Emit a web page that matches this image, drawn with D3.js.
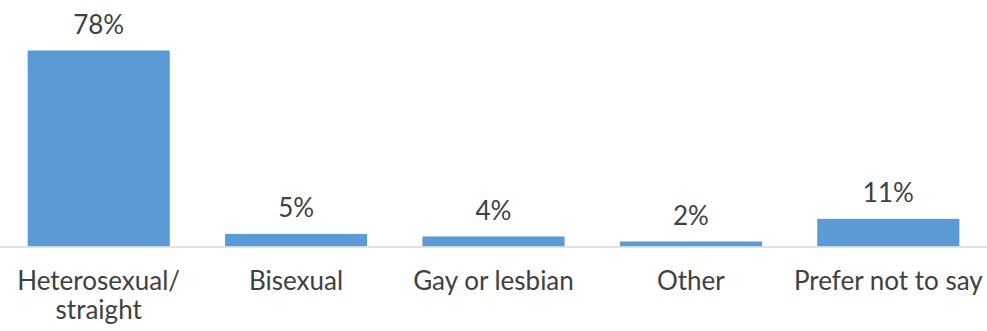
<!DOCTYPE html>
<html>
<head>
<meta charset="utf-8">
<script src="https://cdn.jsdelivr.net/npm/d3@7"></script>
<style>
  body { margin: 0; background: #fff; }
  text { font-family: Lato, "Open Sans", sans-serif; fill: #404040; }
</style>
</head>
<body>
<svg id="chart"></svg>
<script>
const categories = ["Heterosexual/\nstraight", "Bisexual", "Gay or lesbian", "Other", "Prefer not to say"];
const values = [78, 5, 4, 2, 11];

const width = 987;
const height = 331;
const baseline = 246.5;

const svg = d3.select("#chart")
    .attr("width", width)
    .attr("height", height);

const x = d3.scaleBand()
    .domain(categories)
    .range([0, width])
    .paddingInner(0.28)
    .paddingOuter(0.14);

const y = d3.scaleLinear()
    .domain([0, 78])
    .range([baseline, 50.5]);

const data = categories.map((c, i) => ({ cat: c, value: values[i] }));

svg.selectAll(".bar")
    .data(data)
    .enter()
    .append("rect")
    .attr("class", "bar")
    .attr("x", d => x(d.cat))
    .attr("y", d => y(d.value))
    .attr("width", x.bandwidth())
    .attr("height", d => y(0) - y(d.value))
    .attr("fill", "#5b9bd5");

// axis line
svg.append("line")
    .attr("x1", 0)
    .attr("x2", width)
    .attr("y1", baseline + 0.5)
    .attr("y2", baseline + 0.5)
    .attr("stroke", "#d9d9d9")
    .attr("stroke-width", 1.5);

svg.selectAll(".value-label")
    .data(data)
    .enter()
    .append("text")
    .attr("class", "value-label")
    .attr("x", d => x(d.cat) + x.bandwidth() / 2)
    .attr("y", d => y(d.value) - 16.5)
    .attr("text-anchor", "middle")
    .style("font-size", "26px")
    .text(d => d.value + "%");

// category labels, one text per line so wrapped lines stay separate
const catLines = [];
data.forEach(d => {
    d.cat.split("\n").forEach((t, i) => {
        catLines.push({ t, cx: x(d.cat) + x.bandwidth() / 2, line: i });
    });
});

svg.selectAll(".cat-label")
    .data(catLines)
    .enter()
    .append("text")
    .attr("class", "cat-label")
    .attr("x", d => d.cx)
    .attr("y", d => 290 + d.line * 28.5)
    .attr("text-anchor", "middle")
    .style("font-size", "26px")
    .text(d => d.t);
</script>
</body>
</html>
